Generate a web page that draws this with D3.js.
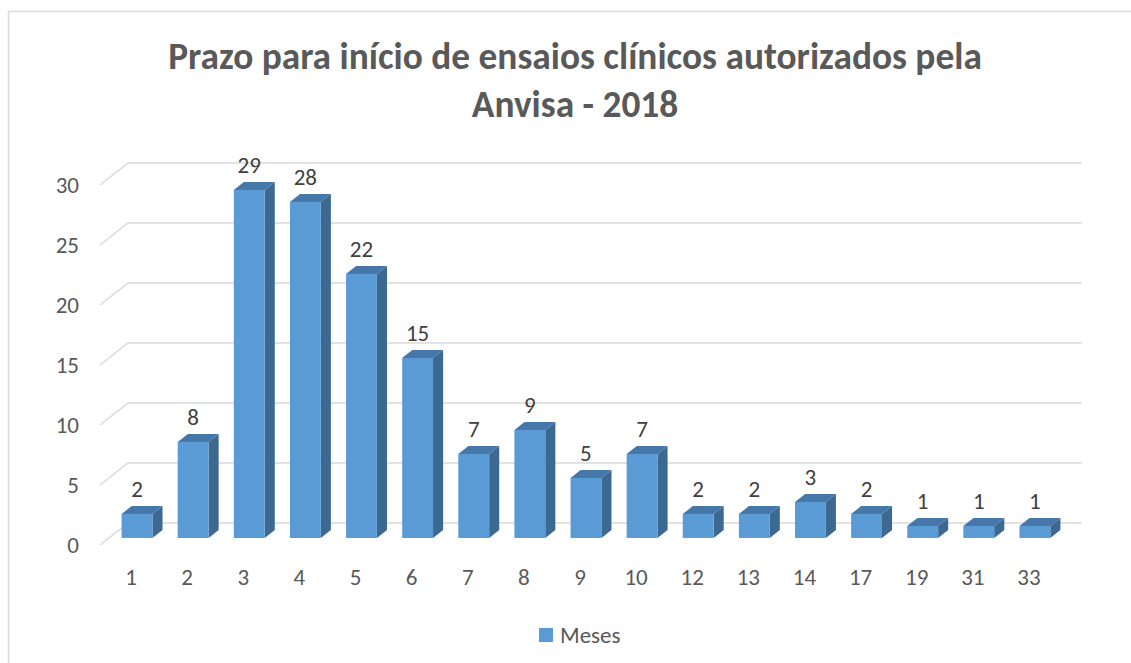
<!DOCTYPE html>
<head>
  <meta charset="utf-8">
  <title>Prazo para início de ensaios clínicos</title>
  <script type="text/javascript" src="https://d3js.org/d3.v7.min.js"></script>
  <style type="text/css">
  body {
      margin: 0;
      background: white;
    }
  text {
      font-family: Carlito, "Open Sans", sans-serif;
    }
  </style>
</head>
<body>
  <script type="text/javascript">

    // Data
    var categories = ["1", "2", "3", "4", "5", "6", "7", "8", "9", "10", "12", "13", "14", "17", "19", "31", "33"];
    var meses = [2, 8, 29, 28, 22, 15, 7, 9, 5, 7, 2, 2, 3, 2, 1, 1, 1];
    var yTicks = [0, 5, 10, 15, 20, 25, 30];
    var seriesName = "Meses";
    var titleLines = ["Prazo para início de ensaios clínicos autorizados pela", "Anvisa - 2018"];

    var width = 1131,
      height = 663;

    // Depth of the 3D floor and where the bars sit inside it
    var depthX = 28,
      depthY = 22,
      z0 = 0.32,
      z1 = 0.68;

    var x = d3.scaleBand()
      .domain(categories)
      .range([100, 1054])
      .paddingInner(0.45)
      .paddingOuter(0.225);

    var y = d3.scaleLinear()
      .domain([0, 30])
      .range([545, 185]);

    // project a point (screen x, value, depth) to the screen
    function proj(px, v, z) {
      return [px + z * depthX, y(v) - z * depthY];
    }

    var svg = d3.select("body").append("svg")
      .attr("width", width)
      .attr("height", height);

    // Chart area border (only left and top are visible)
    svg.append("rect")
      .attr("x", 8.5)
      .attr("y", 11.5)
      .attr("width", 1200)
      .attr("height", 800)
      .attr("fill", "none")
      .attr("stroke", "#D9D9D9")
      .attr("stroke-width", 1.5);

    // Title
    var title = svg.append("text")
      .attr("text-anchor", "middle")
      .attr("fill", "#595959")
      .attr("font-weight", "bold")
      .attr("font-size", 30);

    title.selectAll("tspan")
      .data(titleLines)
      .enter().append("tspan")
      .attr("x", 575)
      .attr("y", function(d, i) { return 69 + i * 48; })
      .text(function(d) { return d; });

    // fit the first line to the width seen in the picture
    var firstLen = title.select("tspan").node().getComputedTextLength();
    title.attr("font-size", 30 * 814 / firstLen);

    // Gridlines drawn on the left wall and back wall
    svg.selectAll(".grid")
      .data(yTicks)
      .enter().append("path")
      .attr("class", "grid")
      .attr("fill", "none")
      .attr("stroke", "#D9D9D9")
      .attr("stroke-width", 1.5)
      .attr("d", function(d) {
        var a = proj(100, d, 0),
          b = proj(100, d, 1),
          c = proj(1054, d, 1);
        return "M" + a + "L" + b + "L" + c;
      });

    // Y axis labels
    svg.selectAll(".ylabel")
      .data(yTicks)
      .enter().append("text")
      .attr("class", "ylabel")
      .attr("x", 79)
      .attr("y", function(d) { return y(d); })
      .attr("dy", "0.35em")
      .attr("text-anchor", "end")
      .attr("font-size", 23)
      .attr("fill", "#595959")
      .text(function(d) { return d; });

    // X axis labels
    svg.selectAll(".xlabel")
      .data(categories)
      .enter().append("text")
      .attr("class", "xlabel")
      .attr("x", function(d) { return x(d) + x.bandwidth() / 2 + 3; })
      .attr("y", 577)
      .attr("dy", "0.35em")
      .attr("text-anchor", "middle")
      .attr("font-size", 23)
      .attr("fill", "#595959")
      .text(function(d) { return d; });

    // Bars: front, top and right side faces
    var bars = svg.selectAll(".bar")
      .data(meses)
      .enter().append("g")
      .attr("class", "bar");

    function face(points) {
      return "M" + points.join("L") + "Z";
    }

    bars.append("path")
      .attr("fill", "#3B6992")
      .attr("d", function(d, i) {
        var bx = x(categories[i]) + x.bandwidth();
        return face([proj(bx, 0, z0), proj(bx, 0, z1), proj(bx, d, z1), proj(bx, d, z0)]);
      });

    bars.append("path")
      .attr("fill", "#4577A8")
      .attr("d", function(d, i) {
        var bx = x(categories[i]), bw = x.bandwidth();
        return face([proj(bx, d, z0), proj(bx + bw, d, z0), proj(bx + bw, d, z1), proj(bx, d, z1)]);
      });

    bars.append("path")
      .attr("fill", "#5B9BD5")
      .attr("d", function(d, i) {
        var bx = x(categories[i]), bw = x.bandwidth();
        return face([proj(bx, 0, z0), proj(bx + bw, 0, z0), proj(bx + bw, d, z0), proj(bx, d, z0)]);
      });

    // Data labels
    bars.append("text")
      .attr("x", function(d, i) { return proj(x(categories[i]) + x.bandwidth() / 2, d, z0)[0]; })
      .attr("y", function(d, i) { return proj(0, d, z1)[1] - 9; })
      .attr("text-anchor", "middle")
      .attr("font-size", 23)
      .attr("fill", "#404040")
      .text(function(d) { return d; });

    // Legend
    svg.append("rect")
      .attr("x", 539)
      .attr("y", 628)
      .attr("width", 14)
      .attr("height", 14)
      .attr("fill", "#5B9BD5");

    svg.append("text")
      .attr("x", 560)
      .attr("y", 635)
      .attr("dy", "0.35em")
      .attr("font-size", 23)
      .attr("fill", "#595959")
      .text(seriesName);

  </script>

</body>
</html>
